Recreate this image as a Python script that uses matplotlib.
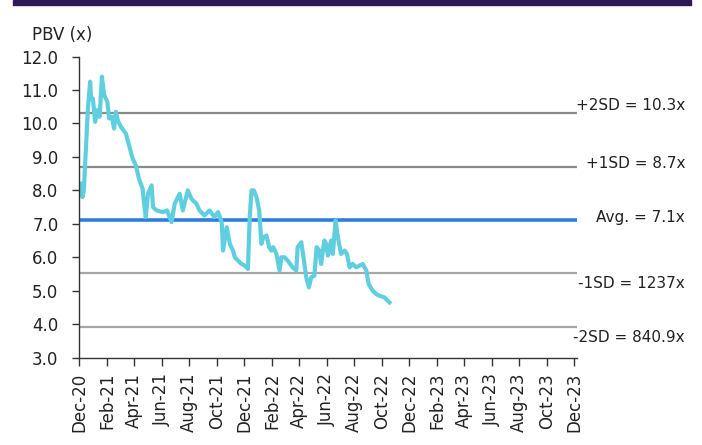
import matplotlib
matplotlib.use('Agg')
import matplotlib.pyplot as plt
import matplotlib.dates as mdates
from matplotlib.patches import Rectangle
import pandas as pd

# PBV series
dates = ['2020-12-03', '2020-12-08', '2020-12-11', '2020-12-16', '2020-12-20',
         '2020-12-25', '2020-12-27', '2020-12-31', '2021-01-05', '2021-01-10',
         '2021-01-15', '2021-01-20', '2021-01-25', '2021-02-01', '2021-02-05',
         '2021-02-11', '2021-02-16', '2021-02-20', '2021-02-24', '2021-03-03',
         '2021-03-14', '2021-03-21', '2021-03-29', '2021-04-05', '2021-04-12',
         '2021-04-20', '2021-04-23', '2021-04-27', '2021-05-02', '2021-05-10',
         '2021-05-13', '2021-05-21', '2021-06-04', '2021-06-13', '2021-06-23',
         '2021-06-30', '2021-07-11', '2021-07-18', '2021-07-29', '2021-08-06',
         '2021-08-17', '2021-08-24', '2021-09-04', '2021-09-15', '2021-09-26',
         '2021-10-04', '2021-10-12', '2021-10-15', '2021-10-23', '2021-10-30',
         '2021-11-06', '2021-11-10', '2021-11-17', '2021-11-25', '2021-12-02',
         '2021-12-09', '2021-12-13', '2021-12-17', '2021-12-22', '2021-12-28',
         '2022-01-03', '2022-01-08', '2022-01-12', '2022-01-19', '2022-01-25',
         '2022-01-30', '2022-02-03', '2022-02-10', '2022-02-17', '2022-02-21',
         '2022-02-28', '2022-03-07', '2022-03-18', '2022-03-26', '2022-03-29',
         '2022-04-06', '2022-04-11', '2022-04-17', '2022-04-23', '2022-04-28',
         '2022-05-05', '2022-05-10', '2022-05-16', '2022-05-20', '2022-05-27',
         '2022-05-31', '2022-06-04', '2022-06-11', '2022-06-15', '2022-06-21',
         '2022-06-26', '2022-07-03', '2022-07-11', '2022-07-16', '2022-07-22',
         '2022-07-29', '2022-08-05', '2022-08-13', '2022-08-20', '2022-08-28',
         '2022-09-02', '2022-09-11', '2022-09-19', '2022-09-26', '2022-10-07',
         '2022-10-18']
pbv = [8.2, 7.8, 8.0, 9.35, 10.45,
       11.25, 10.75, 10.75, 10.05, 10.4,
       10.2, 11.4, 10.85, 10.65, 10.15,
       10.2, 9.85, 10.35, 10.1, 9.9,
       9.7, 9.35, 8.95, 8.75, 8.35,
       8.05, 7.65, 7.2, 7.9, 8.15,
       7.5, 7.4, 7.35, 7.4, 7.05,
       7.6, 7.9, 7.4, 8.0, 7.75,
       7.6, 7.4, 7.25, 7.4, 7.2,
       7.35, 7.05, 6.2, 6.9, 6.4,
       6.2, 6.0, 5.9, 5.8, 5.75,
       5.65, 7.2, 8.0, 8.0, 7.8,
       7.4, 6.4, 6.6, 6.65, 6.3,
       6.2, 6.3, 6.1, 5.6, 6.0,
       6.0, 5.9, 5.7, 5.6, 6.3,
       6.45, 6.0, 5.4, 5.1, 5.4,
       5.45, 6.3, 6.2, 5.8, 6.5,
       6.4, 6.05, 6.5, 6.1, 7.1,
       6.6, 6.1, 6.2, 6.1, 5.7,
       5.8, 5.7, 5.75, 5.8, 5.6,
       5.2, 5.0, 4.9, 4.85, 4.8,
       4.65]

band_names = ['+2SD = 10.3x', '+1SD = 8.7x', 'Avg. = 7.1x', '-1SD = 1237x', '-2SD = 840.9x']
band_values = [10.3, 8.7, 7.1, 5.52, 3.92]
label_y_px = [105, 163, 217, 283, 338]

W, H = 702, 445
plt.rcParams['font.family'] = ['DejaVu Sans']
txt = '#222222'

fig = plt.figure(figsize=(W / 100, H / 100), dpi=100)
ax = fig.add_axes([79.3 / W, 1 - 357.6 / H, (577 - 79.3) / W, (357.6 - 56.6) / H])

styles = [dict(color='#8a8a8a', lw=1.6), dict(color='#8a8a8a', lw=1.6),
          dict(color='#2f7de0', lw=2.6), dict(color='#a6a6a6', lw=1.6),
          dict(color='#a6a6a6', lw=1.6)]
for v, st in zip(band_values, styles):
    ax.axhline(v, zorder=1, **st)

ax.plot(pd.to_datetime(dates), pbv, color='#5fcfdf', lw=3.0,
        solid_joinstyle='round', zorder=2)

ax.set_ylim(3, 12)
ax.set_yticks([3, 4, 5, 6, 7, 8, 9, 10, 11, 12])
ax.yaxis.set_major_formatter(matplotlib.ticker.FormatStrFormatter('%.1f'))
ax.set_xlim(pd.Timestamp('2020-12-01'), pd.Timestamp('2023-12-07'))
ax.xaxis.set_major_locator(mdates.MonthLocator(bymonth=[2, 4, 6, 8, 10, 12]))
ax.xaxis.set_major_formatter(mdates.DateFormatter('%b-%y'))

for s in ['top', 'right']:
    ax.spines[s].set_visible(False)
for s in ['left', 'bottom']:
    ax.spines[s].set_color('#333333')
    ax.spines[s].set_linewidth(1.0)
ax.tick_params(axis='y', length=5, width=1, color='#333333', pad=10,
               labelsize=12, labelcolor=txt)
ax.tick_params(axis='x', length=6, width=1, color='#333333', pad=5,
               labelsize=12, labelcolor=txt, labelrotation=90)

for name, ypx in zip(band_names, label_y_px):
    fig.text(685 / W, 1 - ypx / H, name, ha='right', va='center',
             fontsize=11, color=txt)

fig.text(32 / W, 1 - 35 / H, 'PBV (x)', ha='left', va='center', fontsize=12, color=txt)

fig.patches.append(Rectangle((13 / W, 1 - 5 / H), (691 - 13) / W, 5 / H,
                             transform=fig.transFigure, color='#2e1a57', zorder=0))

fig.savefig('out.png', dpi=100)
